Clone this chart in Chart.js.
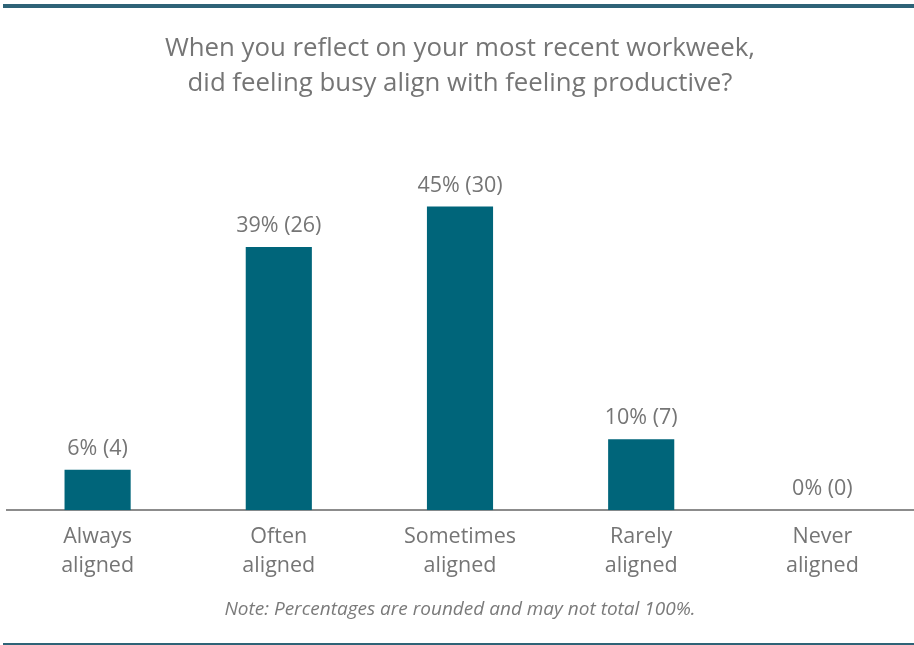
<!DOCTYPE html>
<html>
<head>
<meta charset="utf-8">
<script src="https://cdn.jsdelivr.net/npm/chart.js@4.4.1/dist/chart.umd.min.js"></script>
<style>
  html, body { margin: 0; padding: 0; background: #fff; }
  #wrap { position: relative; width: 914px; height: 645px; }
</style>
</head>
<body>
<div id="wrap"><canvas id="busyChart"></canvas></div>
<script>
'use strict';
// данные с картинки
const categories = [['Always', 'aligned'], ['Often', 'aligned'], ['Sometimes', 'aligned'], ['Rarely', 'aligned'], ['Never', 'aligned']];
const counts = [4, 26, 30, 7, 0];
const percents = [6, 39, 45, 10, 0];
const titleLines = ['When you reflect on your most recent workweek,', 'did feeling busy align with feeling productive?'];
const noteText = 'Note: Percentages are rounded and may not total 100%.';

const textGray = '#757575';
const barColor = '#00657a';

// полосы сверху и снизу
const frameLines = {
  id: 'frameLines',
  beforeDraw(chart) {
    const ctx = chart.ctx;
    ctx.save();
    ctx.fillStyle = '#2e6377';
    ctx.fillRect(3, 4, chart.width - 3, 4);
    ctx.fillRect(3, 643, chart.width - 3, 2);
    ctx.restore();
  }
};

// подписи над столбцами
const valueLabels = {
  id: 'valueLabels',
  afterDatasetsDraw(chart) {
    const ctx = chart.ctx;
    const meta = chart.getDatasetMeta(0);
    ctx.save();
    ctx.font = '21.5px "Open Sans"';
    ctx.fillStyle = textGray;
    ctx.textAlign = 'center';
    ctx.textBaseline = 'alphabetic';
    meta.data.forEach(function(bar, i) {
      ctx.fillText(percents[i] + '% (' + counts[i] + ')', bar.x, bar.y - 15);
    });
    ctx.restore();
  }
};

function render() {
  const ctx = document.getElementById('busyChart').getContext('2d');
  new Chart(ctx, {
    type: 'bar',
    data: {
      labels: categories,
      datasets: [{
        data: counts,
        backgroundColor: barColor,
        borderWidth: 0,
        categoryPercentage: 1,
        barPercentage: 0.365
      }]
    },
    options: {
      responsive: true,
      maintainAspectRatio: false,
      animation: false,
      layout: { padding: { left: 7, right: 1, top: 0, bottom: 0 } },
      plugins: {
        legend: { display: false },
        tooltip: { enabled: false },
        title: {
          display: true,
          text: titleLines,
          color: textGray,
          font: { family: 'Open Sans', size: 25.8, weight: 'normal', lineHeight: '35px' },
          padding: { top: 31, bottom: 55 }
        },
        subtitle: {
          display: true,
          position: 'bottom',
          text: noteText,
          color: '#7a7a7a',
          font: { family: 'Open Sans', size: 19, style: 'italic', weight: 'normal', lineHeight: 1.2 },
          padding: { top: 6, bottom: 24 }
        }
      },
      scales: {
        x: {
          grid: { display: false, drawTicks: false },
          border: { display: true, color: '#8c8c8c', width: 2 },
          ticks: {
            color: textGray,
            font: { family: 'Open Sans', size: 21.5, lineHeight: '29px' },
            padding: 12,
            maxRotation: 0,
            autoSkip: false
          }
        },
        y: {
          display: false,
          min: 0,
          max: 35
        }
      }
    },
    plugins: [frameLines, valueLabels]
  });
}

Promise.all([
  document.fonts.load('26px "Open Sans"'),
  document.fonts.load('italic 19px "Open Sans"')
]).then(render, render);
</script>
</body>
</html>
